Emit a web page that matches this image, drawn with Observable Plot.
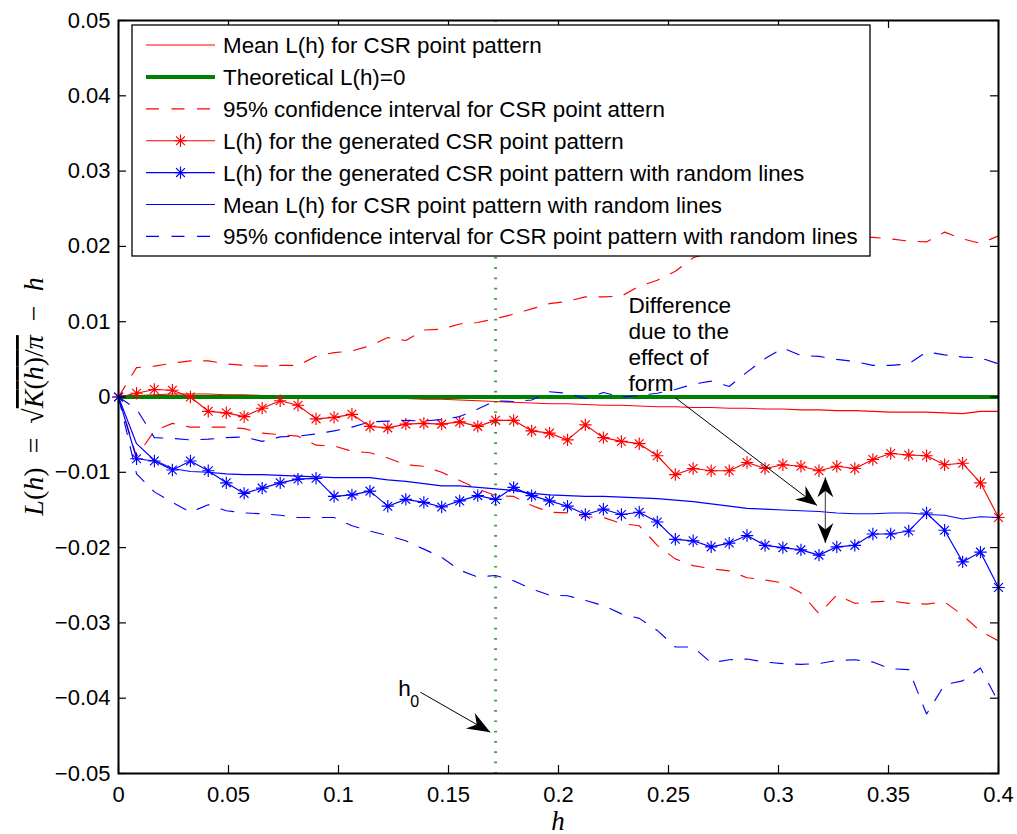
<!DOCTYPE html>
<html>
<head>
<meta charset="utf-8">
<script src="https://cdn.jsdelivr.net/npm/d3@7"></script>
<script src="https://cdn.jsdelivr.net/npm/@observablehq/plot@0.6"></script>
<style>
  html, body { margin: 0; padding: 0; background: white; }
  #chart { width: 1017px; height: 834px; }
</style>
</head>
<body>
<div id="chart"></div>
<script>
// ---------------- data ----------------
const h = [0, 0.0082, 0.0163, 0.0245, 0.0327, 0.0408, 0.0490, 0.0571, 0.0653, 0.0735,
  0.0816, 0.0898, 0.0980, 0.1061, 0.1143, 0.1224, 0.1306, 0.1388, 0.1469, 0.1551,
  0.1633, 0.1714, 0.1796, 0.1878, 0.1959, 0.2041, 0.2122, 0.2204, 0.2286, 0.2367,
  0.2449, 0.2531, 0.2612, 0.2694, 0.2776, 0.2857, 0.2939, 0.3020, 0.3102, 0.3184,
  0.3265, 0.3347, 0.3429, 0.3510, 0.3592, 0.3673, 0.3755, 0.3837, 0.3918, 0.4000];

const csrMean = [0, 0.0002, 0.0003, 0.0004, 0.0004, 0.0004, 0.0003, 0.0003, 0.0002, 0.0002,
  0.0001, 0.0001, 0, -0.0001, -0.0002, -0.0002, -0.0002, -0.0003, -0.0003, -0.0004,
  -0.0005, -0.0006, -0.0007, -0.0008, -0.0009, -0.0009, -0.0010, -0.0011, -0.0011, -0.0012,
  -0.0013, -0.0013, -0.0014, -0.0014, -0.0015, -0.0015, -0.0016, -0.0016, -0.0017, -0.0017,
  -0.0018, -0.0018, -0.0019, -0.0020, -0.0020, -0.0020, -0.0021, -0.0022, -0.0019, -0.0019];

const theoretical = [0];

const csrUpper95 = [0, 0.0039, 0.0041, 0.0045, 0.0048, 0.0048, 0.0044, 0.0042, 0.0041, 0.0042,
  0.0042, 0.0054, 0.0059, 0.0061, 0.0068, 0.0079, 0.0075, 0.0089, 0.0090, 0.0097,
  0.0099, 0.0104, 0.0110, 0.0117, 0.0124, 0.0127, 0.0133, 0.0133, 0.0134, 0.0147,
  0.0155, 0.0167, 0.0185, 0.0192, 0.0198, 0.0203, 0.0206, 0.0208, 0.0210, 0.0210,
  0.0211, 0.0212, 0.0212, 0.0210, 0.0207, 0.0206, 0.0219, 0.0210, 0.0204, 0.0214];

const csrLower95 = [0, -0.0079, -0.0045, -0.0035, -0.0040, -0.0040, -0.0040, -0.0042, -0.0048, -0.0050,
  -0.0052, -0.0064, -0.0065, -0.0072, -0.0074, -0.0081, -0.0090, -0.0092, -0.0100, -0.0111,
  -0.0122, -0.0131, -0.0132, -0.0144, -0.0153, -0.0154, -0.0159, -0.0160, -0.0168, -0.0171,
  -0.0197, -0.0215, -0.0224, -0.0228, -0.0231, -0.0240, -0.0243, -0.0247, -0.0260, -0.0288,
  -0.0263, -0.0274, -0.0272, -0.0271, -0.0274, -0.0275, -0.0272, -0.0290, -0.0311, -0.0324];

const csrObserved = [0, 0.0005, 0.0010, 0.0009, 0, -0.0019, -0.0021, -0.0026, -0.0015, -0.0005,
  -0.0011, -0.0029, -0.0027, -0.0023, -0.0039, -0.0041, -0.0036, -0.0035, -0.0036, -0.0033,
  -0.0039, -0.0031, -0.0031, -0.0045, -0.0048, -0.0057, -0.0037, -0.0054, -0.0059, -0.0062,
  -0.0078, -0.0103, -0.0095, -0.0098, -0.0098, -0.0087, -0.0095, -0.0090, -0.0092, -0.0098,
  -0.0092, -0.0095, -0.0083, -0.0075, -0.0077, -0.0078, -0.0090, -0.0088, -0.0114, -0.0160];

const linesObserved = [0, -0.0082, -0.0085, -0.0097, -0.0085, -0.0098, -0.0114, -0.0128, -0.0121, -0.0114,
  -0.0109, -0.0108, -0.0132, -0.0130, -0.0125, -0.0145, -0.0136, -0.0140, -0.0146, -0.0138,
  -0.0131, -0.0136, -0.0120, -0.0131, -0.0138, -0.0145, -0.0156, -0.0149, -0.0156, -0.0153,
  -0.0166, -0.0189, -0.0191, -0.0199, -0.0194, -0.0184, -0.0197, -0.0200, -0.0203, -0.0210,
  -0.0199, -0.0197, -0.0182, -0.0182, -0.0178, -0.0154, -0.0177, -0.0219, -0.0206, -0.0253];

const linesMean = [0, -0.0062, -0.0084, -0.0095, -0.0099, -0.0100, -0.0102, -0.0103, -0.0103, -0.0104,
  -0.0105, -0.0106, -0.0107, -0.0107, -0.0107, -0.0110, -0.0112, -0.0115, -0.0118, -0.0118,
  -0.0120, -0.0122, -0.0124, -0.0128, -0.0130, -0.0131, -0.0132, -0.0132, -0.0133, -0.0134,
  -0.0135, -0.0137, -0.0139, -0.0142, -0.0145, -0.0148, -0.0149, -0.0150, -0.0151, -0.0152,
  -0.0154, -0.0155, -0.0155, -0.0154, -0.0154, -0.0156, -0.0157, -0.0162, -0.0159, -0.0160];

const linesUpper95 = [0, -0.0016, -0.0054, -0.0055, -0.0057, -0.0056, -0.0054, -0.0053, -0.0059, -0.0053,
  -0.0052, -0.0049, -0.0045, -0.0040, -0.0033, -0.0032, -0.0031, -0.0032, -0.0030, -0.0026,
  -0.0016, -0.0005, -0.0006, -0.0004, 0.0007, 0.0005, -0.0002, 0.0006, 0, 0.0002,
  0.0005, 0.0010, 0.0017, 0.0021, 0.0014, 0.0033, 0.0051, 0.0065, 0.0055, 0.0054,
  0.0050, 0.0047, 0.0042, 0.0042, 0.0044, 0.0060, 0.0056, 0.0053, 0.0052, 0.0044];

const linesLower95 = [0, -0.0102, -0.0126, -0.0140, -0.0153, -0.0143, -0.0151, -0.0154, -0.0155, -0.0157,
  -0.0160, -0.0160, -0.0160, -0.0171, -0.0178, -0.0184, -0.0191, -0.0202, -0.0213, -0.0230,
  -0.0239, -0.0237, -0.0244, -0.0255, -0.0263, -0.0264, -0.0270, -0.0277, -0.0288, -0.0294,
  -0.0310, -0.0332, -0.0332, -0.0353, -0.0349, -0.0348, -0.0352, -0.0354, -0.0355, -0.0354,
  -0.0350, -0.0349, -0.0352, -0.0361, -0.0362, -0.0421, -0.0382, -0.0377, -0.0360, -0.0405];

const h0 = [0.1714];

const xTicks = [0, 0.05, 0.1, 0.15, 0.2, 0.25, 0.3, 0.35, 0.4];
const yTicks = [-0.05, -0.04, -0.03, -0.02, -0.01, 0, 0.01, 0.02, 0.03, 0.04, 0.05];

const legendLabels = [
  "Mean L(h) for CSR point pattern",
  "Theoretical L(h)=0",
  "95% confidence interval for CSR point attern",
  "L(h) for the generated CSR point pattern",
  "L(h) for the generated CSR point pattern with random lines",
  "Mean L(h) for CSR point pattern with random lines",
  "95% confidence interval for CSR point pattern with random lines"
];

// annotations (data units)
const formNote = [{x: 0.2318, y: 0.01356, text: "Difference\ndue to the\neffect of\nform"}];
const h0Note = [{x: 0.1272, y: -0.0397, base: "h", sub: "0"}];
const singleArrows = [
  {x1: 0.1372, y1: -0.0392, x2: 0.1690, y2: -0.04452, len: 23, half: 9},
  {x1: 0.2531, y1: -0.0001, x2: 0.3175, y2: -0.0144, len: 21, half: 8.5}
];
const doubleArrow = [{x: 0.3213, y1: -0.01065, y2: -0.0194}];

// ---------------- layout ----------------
const W = 1017, H = 834, mL = 118, mR = 19, mT = 20, mB = 61;
const xDomain = [0, 0.4], yDomain = [-0.05, 0.05];
const px = v => mL + (v - xDomain[0]) / (xDomain[1] - xDomain[0]) * (W - mL - mR);
const py = v => (H - mB) - (v - yDomain[0]) / (yDomain[1] - yDomain[0]) * (H - mT - mB);
const frameW = W - mL - mR, frameH = H - mT - mB;

const RED = "#ff0000", BLUE = "#0000ff", GREEN = "#008000";
const DASH = "13,12.5";
const LW = 1.15;
const STAR_R = 6.2;

const rows = ys => h.map((x, i) => ({h: x, L: ys[i]}));

// MATLAB-like '*' marker
const asterisk = {
  draw(ctx, size) {
    const r = Math.sqrt(size / Math.PI);
    const d = r * Math.SQRT1_2;
    ctx.moveTo(-r, 0); ctx.lineTo(r, 0);
    ctx.moveTo(0, -r); ctx.lineTo(0, r);
    ctx.moveTo(-d, -d); ctx.lineTo(d, d);
    ctx.moveTo(-d, d); ctx.lineTo(d, -d);
  }
};

// filled notched arrow head, tip at the dot position, rotated by angle (rad, clockwise from "up")
function arrowHead(len, half, angle) {
  const c = Math.cos(angle), s = Math.sin(angle);
  const rot = (x, y) => [x * c - y * s, x * s + y * c];
  const pts = [[0, 0], [half, len], [0, len * 0.68], [-half, len]].map(([x, y]) => rot(x, y));
  return {
    draw(ctx) {
      ctx.moveTo(pts[0][0], pts[0][1]);
      for (let k = 1; k < pts.length; ++k) ctx.lineTo(pts[k][0], pts[k][1]);
      ctx.closePath();
    }
  };
}

const headMarks = singleArrows.map(a => {
  const dx = px(a.x2) - px(a.x1), dy = py(a.y2) - py(a.y1);
  const ang = Math.atan2(dx, -dy);
  return Plot.dot([a], {x: "x2", y: "y2", r: 1, symbol: arrowHead(a.len, a.half, ang), fill: "black", stroke: "none"});
});
const dblHeads = [
  Plot.dot(doubleArrow, {x: "x", y: "y1", r: 1, symbol: arrowHead(20, 8, 0), fill: "black", stroke: "none"}),
  Plot.dot(doubleArrow, {x: "x", y: "y2", r: 1, symbol: arrowHead(20, 8, Math.PI), fill: "black", stroke: "none"})
];

const fmtX = d => String(d);
const fmtY = d => d < 0 ? "\u2212" + String(-d) : String(d);

const chart = Plot.plot({
  width: W, height: H,
  marginLeft: mL, marginRight: mR, marginTop: mT, marginBottom: mB,
  style: {fontFamily: "'Liberation Sans', Arial, Helvetica, sans-serif", fontSize: "22px", color: "black", background: "white", overflow: "visible"},
  x: {domain: xDomain},
  y: {domain: yDomain},
  marks: [
    Plot.line(rows(csrMean), {x: "h", y: "L", stroke: RED, strokeWidth: LW}),
    Plot.ruleY(theoretical, {stroke: GREEN, strokeWidth: 4}),
    Plot.line(rows(csrUpper95), {x: "h", y: "L", stroke: RED, strokeWidth: LW, strokeDasharray: DASH}),
    Plot.line(rows(csrLower95), {x: "h", y: "L", stroke: RED, strokeWidth: LW, strokeDasharray: DASH}),
    Plot.line(rows(csrObserved), {x: "h", y: "L", stroke: RED, strokeWidth: LW}),
    Plot.dot(rows(csrObserved), {x: "h", y: "L", symbol: asterisk, r: STAR_R, stroke: RED, fill: "none", strokeWidth: LW}),
    Plot.line(rows(linesObserved), {x: "h", y: "L", stroke: BLUE, strokeWidth: LW}),
    Plot.dot(rows(linesObserved), {x: "h", y: "L", symbol: asterisk, r: STAR_R, stroke: BLUE, fill: "none", strokeWidth: LW}),
    Plot.line(rows(linesMean), {x: "h", y: "L", stroke: BLUE, strokeWidth: LW}),
    Plot.line(rows(linesUpper95), {x: "h", y: "L", stroke: BLUE, strokeWidth: LW, strokeDasharray: DASH}),
    Plot.line(rows(linesLower95), {x: "h", y: "L", stroke: BLUE, strokeWidth: LW, strokeDasharray: DASH}),
    // h0 marker line
    Plot.ruleX(h0, {stroke: GREEN, strokeWidth: 3, strokeDasharray: "1.7,8.6", strokeOpacity: 0.75}),
    // annotations
    Plot.link(singleArrows, {x1: "x1", y1: "y1", x2: "x2", y2: "y2", stroke: "black", strokeWidth: 1}),
    ...headMarks,
    Plot.link(doubleArrow, {x1: "x", y1: "y1", x2: "x", y2: "y2", stroke: "#555", strokeWidth: 1.2}),
    ...dblHeads,
    Plot.text(formNote, {x: "x", y: "y", text: "text", textAnchor: "start", lineAnchor: "top", lineHeight: 1.15, fontSize: 22.6, fill: "black"}),
    Plot.text(h0Note, {x: "x", y: "y", text: "base", textAnchor: "start", lineAnchor: "bottom", fontSize: 22.6, fill: "black"}),
    Plot.text(h0Note, {x: "x", y: "y", text: "sub", textAnchor: "start", lineAnchor: "bottom", fontSize: 16, dx: 12, dy: 11, fill: "black"}),
    // box and inward ticks
    Plot.frame({stroke: "black", strokeWidth: 2}),
    Plot.ruleX(xTicks, {stroke: "black", strokeWidth: 1.2, insetTop: frameH - 8}),
    Plot.ruleX(xTicks, {stroke: "black", strokeWidth: 1.2, insetBottom: frameH - 8}),
    Plot.ruleY(yTicks, {stroke: "black", strokeWidth: 1.2, insetRight: frameW - 8}),
    Plot.ruleY(yTicks, {stroke: "black", strokeWidth: 1.2, insetLeft: frameW - 8}),
    Plot.axisX(xTicks, {anchor: "bottom", tickSize: 0, tickPadding: 13, tickFormat: fmtX, label: null}),
    Plot.axisY(yTicks, {anchor: "left", tickSize: 0, tickPadding: 8, tickFormat: fmtY, label: null})
  ]
});

document.getElementById("chart").appendChild(chart);

// ---------------- axis titles (math-style) ----------------
const svg = d3.select(chart);
const serif = "'Liberation Serif', 'DejaVu Serif', serif";

svg.append("text")
  .attr("x", px(0.2)).attr("y", 830)
  .attr("text-anchor", "middle")
  .style("font-family", serif).style("font-style", "italic").style("font-size", "27px")
  .text("h");

const yl = svg.append("text")
  .attr("transform", `translate(43, ${(mT + H - mB) / 2}) rotate(-90)`)
  .attr("text-anchor", "middle")
  .style("font-family", serif).style("font-size", "28px");
const parts = [
  ["L", true, false], ["(", false, false], ["h", true, false], [")\u2002=\u2002", false, false],
  ["\u221A", false, false], ["K", true, true], ["(", false, true], ["h", true, true], [")/", false, true],
  ["\u03C0", true, true], ["\u2002\u2212\u2002", false, false], ["h", true, false]
];
for (const [t, it, ov] of parts) {
  const ts = yl.append("tspan").text(t).style("font-style", it ? "italic" : "normal");
  if (ov) ts.style("text-decoration", "overline");
}

// ---------------- legend ----------------
const legendStyles = [
  {stroke: RED, width: LW, dash: null, star: false},
  {stroke: GREEN, width: 4, dash: null, star: false},
  {stroke: RED, width: LW, dash: DASH, star: false},
  {stroke: RED, width: LW, dash: null, star: true},
  {stroke: BLUE, width: LW, dash: null, star: true},
  {stroke: BLUE, width: LW, dash: null, star: false},
  {stroke: BLUE, width: LW, dash: DASH, star: false}
];
const lg = svg.append("g");
lg.append("rect").attr("x", 132).attr("y", 25).attr("width", 738).attr("height", 231)
  .attr("fill", "white").attr("stroke", "black").attr("stroke-width", 1.3);
const starPath = d3.symbol(asterisk, STAR_R * STAR_R * Math.PI)();
legendLabels.forEach((label, k) => {
  const st = legendStyles[k];
  const yy = 45 + k * 31.9;
  const ln = lg.append("line").attr("x1", 146).attr("x2", 215).attr("y1", yy).attr("y2", yy)
    .attr("stroke", st.stroke).attr("stroke-width", st.width);
  if (st.dash) ln.attr("stroke-dasharray", st.dash);
  if (st.star) lg.append("path").attr("d", starPath).attr("transform", `translate(180.5, ${yy})`)
    .attr("fill", "none").attr("stroke", st.stroke).attr("stroke-width", LW);
  lg.append("text").attr("x", 223).attr("y", yy).attr("dy", "0.36em")
    .attr("text-anchor", "start")
    .attr("fill", "black").style("font-size", "22.4px").text(label);
});
</script>
</body>
</html>
